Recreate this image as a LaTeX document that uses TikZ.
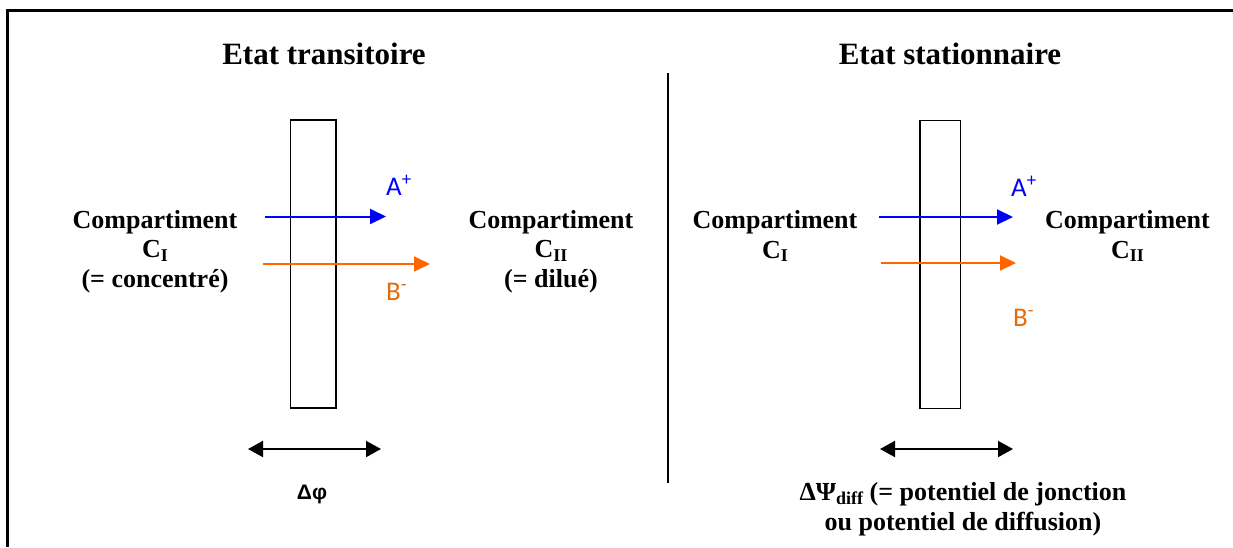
\documentclass[tikz,border=0pt]{standalone}
\usepackage{fontspec}
\setmainfont{Liberation Serif}
\newfontfamily\arialf{Liberation Sans}
\newfontfamily\calibf{Carlito}
\usetikzlibrary{arrows.meta}
\definecolor{ionblue}{RGB}{0,0,255}
\definecolor{ionorange}{RGB}{255,102,0}
\definecolor{lblorange}{RGB}{228,108,10}
\newcommand{\sbI}[1]{\raisebox{-3.5pt}{\fontsize{18}{18}\selectfont #1}}
\begin{document}
\begin{tikzpicture}[x=1pt,y=-1pt,
  titletext/.style={font=\fontsize{31}{34}\selectfont\bfseries, inner sep=0pt, anchor=base},
  bodytext/.style={font=\fontsize{26}{29.5}\selectfont\bfseries, inner sep=0pt, align=center, anchor=base},
  membrane/.style={draw, line width=1.5pt, inner sep=0pt, minimum height=288pt},
  ionlabel/.style={font=\calibf\fontsize{27}{30}\selectfont, inner sep=0pt, anchor=base west},
  bluearrow/.style={draw=ionblue, line width=2pt, -{Triangle[length=16pt,width=15pt]}},
  orangearrow/.style={draw=ionorange, line width=2pt, -{Triangle[length=16pt,width=15pt]}},
  dblarrow/.style={draw=black, line width=2pt, {Triangle[length=15pt,width=16pt]}-{Triangle[length=15pt,width=16pt]}},
  sepline/.style={draw=black, line width=1.5pt}
]
\useasboundingbox (0,0) rectangle (1233,547);
% frame (cropped on right and bottom)
\draw[line width=2.5pt] (7.5,547) -- (7.5,10.5) -- (1233,10.5);

% titles
\node[titletext] (t1) at (324,64) {Etat transitoire};
\node[titletext] (t2) at (950,64) {Etat stationnaire};

% separator
\coordinate (sept) at (668,73);
\coordinate (sepb) at (668,483);
\draw[sepline] (sept) -- (sepb);

% ---------- left panel ----------
\node[membrane, minimum width=45.5pt] (m1) at (313.25,264) {};
\node[bodytext] (c1) at (155,287) {Compartiment\\C\sbI{I}\\(= concentré)};
\node[bodytext] (c2) at (551,287) {Compartiment\\C\sbI{II}\\(= dilué)};

\coordinate (a1s) at (265,216.5);
\coordinate (a1e) at (386,216.5);
\draw[bluearrow] (a1s) -- (a1e);
\coordinate (b1s) at (263,264);
\coordinate (b1e) at (430,264);
\draw[orangearrow] (b1s) -- (b1e);
\node[ionlabel, text=ionblue] (la1) at (386,195) {A\textsuperscript{+}};
\node[ionlabel, text=lblorange] (lb1) at (386,300) {B\textsuperscript{-}};

\coordinate (d1l) at (248,449);
\coordinate (d1r) at (381,449);
\draw[dblarrow] (d1l) -- (d1r);
\node[font=\arialf\bfseries\fontsize{21}{23}\selectfont, inner sep=0pt, anchor=base] (dphi) at (312,499) {Δφ};

% ---------- right panel ----------
\node[membrane, minimum width=40.5pt] (m2) at (940.25,264.5) {};
\node[bodytext] (c3) at (775,258) {Compartiment\\C\sbI{I}};
\node[bodytext] (c4) at (1127.5,258) {Compartiment\\C\sbI{II}};

\coordinate (a2s) at (879,217);
\coordinate (a2e) at (1013,217);
\draw[bluearrow] (a2s) -- (a2e);
\coordinate (b2s) at (881,263);
\coordinate (b2e) at (1016,263);
\draw[orangearrow] (b2s) -- (b2e);
\node[ionlabel, text=ionblue] (la2) at (1011,196) {A\textsuperscript{+}};
\node[ionlabel, text=lblorange] (lb2) at (1013,326) {B\textsuperscript{-}};

\coordinate (d2l) at (880,449);
\coordinate (d2r) at (1013,449);
\draw[dblarrow] (d2l) -- (d2r);
\node[bodytext] (dpsi) at (963,530) {ΔΨ\sbI{diff} (= potentiel de jonction\\ou potentiel de diffusion)};
\end{tikzpicture}
\end{document}
